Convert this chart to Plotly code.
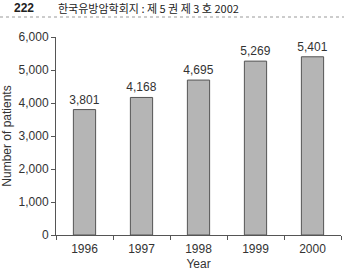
import plotly.graph_objects as go

years = ["1996", "1997", "1998", "1999", "2000"]
patients = [3801, 4168, 4695, 5269, 5401]
labels = ["3,801", "4,168", "4,695", "5,269", "5,401"]
y_ticks = [0, 1000, 2000, 3000, 4000, 5000, 6000]
y_tick_text = ["0", "1,000", "2,000", "3,000", "4,000", "5,000", "6,000"]

W, H = 344, 273
L, R, T, B = 56, 3, 37, 38
ph = H - T - B

def py(pix):
    return (H - B - pix) / ph

fig = go.Figure(go.Bar(
    x=years, y=patients, text=labels, textposition="outside",
    constraintext="none",
    textfont=dict(size=12, color="#333"), cliponaxis=False,
    marker=dict(color="#b5b5b5", line=dict(color="#555", width=1)),
    width=0.39,
))

fig.update_layout(
    width=W, height=H, margin=dict(l=L, r=R, t=T, b=B),
    paper_bgcolor="white", plot_bgcolor="white",
    font=dict(family="Liberation Sans, Arial, sans-serif", size=12, color="#333"),
    showlegend=False,
    xaxis=dict(
        title=dict(text="Year", font=dict(size=12), standoff=4),
        showline=True, linecolor="#555", linewidth=1,
        ticks="outside", tickson="boundaries", ticklen=4, tickcolor="#555",
        showgrid=False, ticklabelstandoff=3, automargin=False,
    ),
    yaxis=dict(
        title=dict(text="Number of patients", font=dict(size=12), standoff=4),
        range=[0, 6000], tickvals=y_ticks, ticktext=y_tick_text,
        showline=True, linecolor="#555", linewidth=1,
        ticks="outside", ticklen=4, tickcolor="#555",
        showgrid=False, zeroline=False, automargin=False,
    ),
    annotations=[
        dict(text="<b>222</b>", x=-0.155, y=py(8), xref="paper", yref="paper",
             xanchor="left", yanchor="middle", showarrow=False,
             font=dict(size=12, color="#222")),
        dict(text="한국유방암학회지 : 제 5 권 제 3 호 2002", x=0.0, y=py(8),
             xref="paper", yref="paper", xanchor="left", yanchor="middle",
             showarrow=False,
             font=dict(family="Noto Sans CJK KR", size=11, color="#222")),
    ],
    shapes=[
        dict(type="line", xref="paper", yref="paper", x0=-L / (W - L - R), x1=1 + R / (W - L - R),
             y0=py(17), y1=py(17), line=dict(color="#999", width=1, dash="dot")),
    ],
)

fig.write_html("out.html")
